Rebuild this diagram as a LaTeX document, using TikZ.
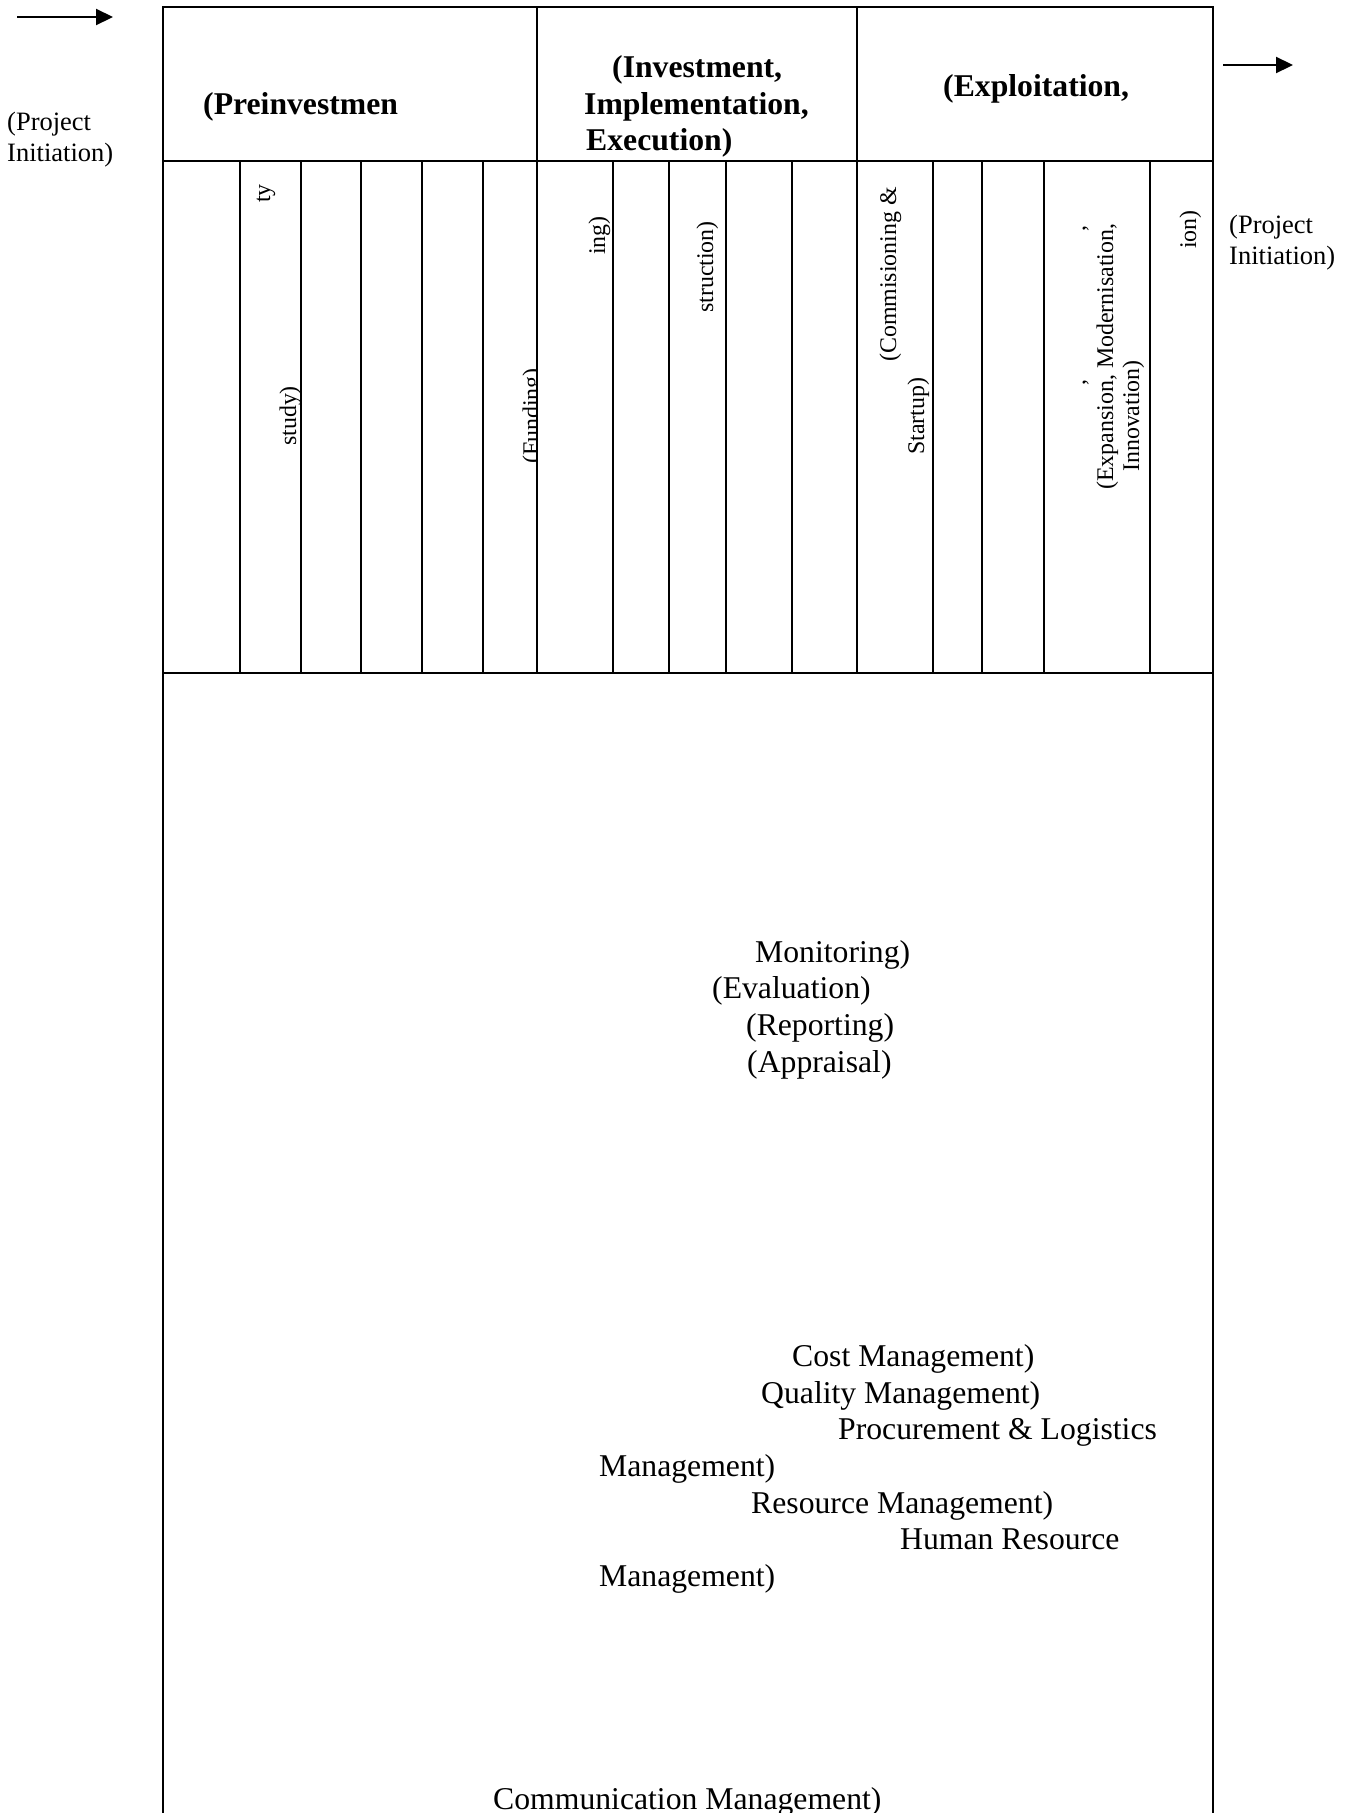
\documentclass[tikz,border=0pt]{standalone}
\usepackage{fontspec}
\setmainfont{Liberation Serif}
\usetikzlibrary{arrows.meta}
\tikzset{
  frame/.style={line width=2.2pt, line cap=rect},
  grid/.style={line width=2.2pt},
  maintxt/.style={font=\fontsize{31.7}{36.5}\selectfont, anchor=base west, inner sep=0pt},
  headtxt/.style={font=\fontsize{31.7}{36.5}\selectfont\bfseries, anchor=base west, inner sep=0pt},
  sidetxt/.style={font=\fontsize{26.5}{30.5}\selectfont, anchor=base west, inner sep=0pt},
  rottxt/.style={font=\fontsize{23.9}{27.5}\selectfont, anchor=base west, inner sep=0pt, rotate=90},
  flowarrow/.style={line width=2.2pt, -{Triangle[length=17pt,width=16pt]}}
}
\begin{document}
\begin{tikzpicture}[x=1pt,y=-1pt]
\useasboundingbox (0,0) rectangle (1351,1813);
\clip (0,0) rectangle (1351,1813);

% arrows
\coordinate (la1) at (17,17);
\coordinate (la2) at (113,17);
\draw[flowarrow] (la1) -- (la2);
\coordinate (ra1) at (1223,65);
\coordinate (ra2) at (1293,65);
\draw[flowarrow] (ra1) -- (ra2);

% side labels
\node[sidetxt] (lp1) at (7,130) {(Project};
\node[sidetxt] (lp2) at (7,161) {Initiation)};
\node[sidetxt] (rp1) at (1229,233) {(Project};
\node[sidetxt] (rp2) at (1229,264) {Initiation)};

% frame
\draw[frame] (163,1820) -- (163,7) -- (1213,7) -- (1213,1820);
\draw[grid] (163,161) -- (1213,161);
\draw[grid] (163,673) -- (1213,673);
\draw[grid] (537,7) -- (537,673);
\draw[grid] (857,7) -- (857,673);
\foreach \cx in {240,301,361,422,483,613,669,726,792,933,982,1044,1150}
  \draw[grid] (\cx,161) -- (\cx,673);

% phase headers
\node[headtxt] (h1) at (203,114) {(Preinvestmen};
\node[headtxt] (h2a) at (612,77) {(Investment,};
\node[headtxt] (h2b) at (584,114) {Implementation,};
\node[headtxt] (h2c) at (586,150) {Execution)};
\node[headtxt] (h3) at (943,96) {(Exploitation,};

% column labels (rotated)
\node[rottxt] (c2a) at (270,203) {ty};
\node[rottxt] (c2b) at (296,446) {study)};
\begin{scope}
  \clip (483,161) rectangle (536,673);
  \node[rottxt] (c6) at (539,464) {(Funding)};
\end{scope}
\node[rottxt] (c7) at (605,255) {ing)};
\node[rottxt] (c9) at (713,313) {struction)};
\node[rottxt] (c12a) at (896,362) {(Commisioning \&};
\node[rottxt] (c12b) at (924,455) {Startup)};
\node[rottxt] (c15a) at (1085,232) {,};
\node[rottxt] (c15b) at (1085,386) {,};
\node[rottxt] (c15c) at (1113,490) {(Expansion, Modernisation,};
\node[rottxt] (c15d) at (1139,472) {Innovation)};
\node[rottxt] (c16) at (1196,249) {ion)};

% body texts
\node[maintxt] (m1) at (755,962) {Monitoring)};
\node[maintxt] (m2) at (712,998) {(Evaluation)};
\node[maintxt] (m3) at (746,1035) {(Reporting)};
\node[maintxt] (m4) at (747,1072) {(Appraisal)};

\node[maintxt] (k1) at (792,1366) {Cost Management)};
\node[maintxt] (k2) at (761,1403) {Quality Management)};
\node[maintxt] (k3) at (838,1439) {Procurement \& Logistics};
\node[maintxt] (k4) at (599,1476) {Management)};
\node[maintxt] (k5) at (751,1513) {Resource Management)};
\node[maintxt] (k6) at (900,1549) {Human Resource};
\node[maintxt] (k7) at (599,1586) {Management)};

\node[maintxt] (cm) at (493,1809) {Communication Management)};
\end{tikzpicture}
\end{document}
